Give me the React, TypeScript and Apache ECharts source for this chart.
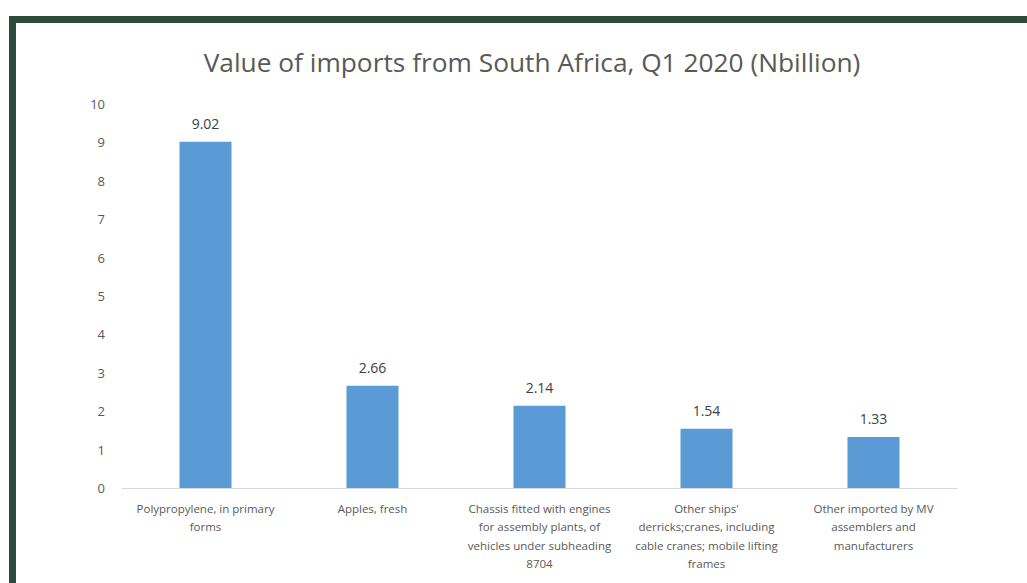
import React, { useEffect, useRef } from "react";
import * as echarts from "echarts";

const categories = [
  "Polypropylene, in primary\nforms",
  "Apples, fresh",
  "Chassis fitted with engines\nfor assembly plants, of\nvehicles under subheading\n8704",
  "Other ships'\nderricks;cranes, including\ncable cranes; mobile lifting\nframes",
  "Other imported by MV\nassemblers and\nmanufacturers",
];
const values = [9.02, 2.66, 2.14, 1.54, 1.33];
const titleText = "Value of imports from South Africa, Q1 2020 (Nbillion)";

export default function App() {
  const ref = useRef<HTMLDivElement>(null);
  useEffect(() => {
    document.body.style.margin = "0";
    const chart = echarts.init(ref.current!, null, { renderer: "svg" });
    chart.setOption({
      animation: false,
      backgroundColor: "#ffffff",
      title: {
        text: titleText,
        left: 527,
        textAlign: "center",
        top: 44,
        textStyle: {
          fontFamily: "Open Sans",
          fontSize: 26.3,
          fontWeight: "normal",
          color: "#595959",
        },
      },
      graphic: [
        { type: "rect", shape: { x: 9, y: 16, width: 1018, height: 7 }, style: { fill: "#2f4a3b" } },
        { type: "rect", shape: { x: 9, y: 16, width: 7, height: 567 }, style: { fill: "#2f4a3b" } },
      ],
      grid: { left: 122, right: 70, top: 104, bottom: 95, containLabel: false },
      xAxis: {
        type: "category",
        data: categories,
        axisLine: { show: true, lineStyle: { color: "#d9d9d9", width: 1 } },
        axisTick: { show: false },
        axisLabel: {
          interval: 0,
          margin: 11,
          color: "#595959",
          fontFamily: "Open Sans",
          fontSize: 11.5,
          lineHeight: 18.5,
        },
      },
      yAxis: {
        type: "value",
        min: 0,
        max: 10,
        interval: 1,
        splitLine: { show: false },
        axisLine: { show: false },
        axisTick: { show: false },
        axisLabel: {
          margin: 17,
          color: "#595959",
          fontFamily: "Open Sans",
          fontSize: 13,
        },
      },
      series: [
        {
          type: "bar",
          data: values,
          barWidth: 52,
          itemStyle: { color: "#5b9bd5" },
          label: {
            show: true,
            position: "top",
            distance: 11,
            formatter: (p: any) => p.value.toFixed(2),
            color: "#404040",
            fontFamily: "Open Sans",
            fontSize: 14,
          },
        },
      ],
    });
    return () => chart.dispose();
  }, []);
  return (
    <div
      ref={ref}
      style={{ position: "absolute", left: 0, top: 0, width: 1027, height: 583 }}
    />
  );
}
